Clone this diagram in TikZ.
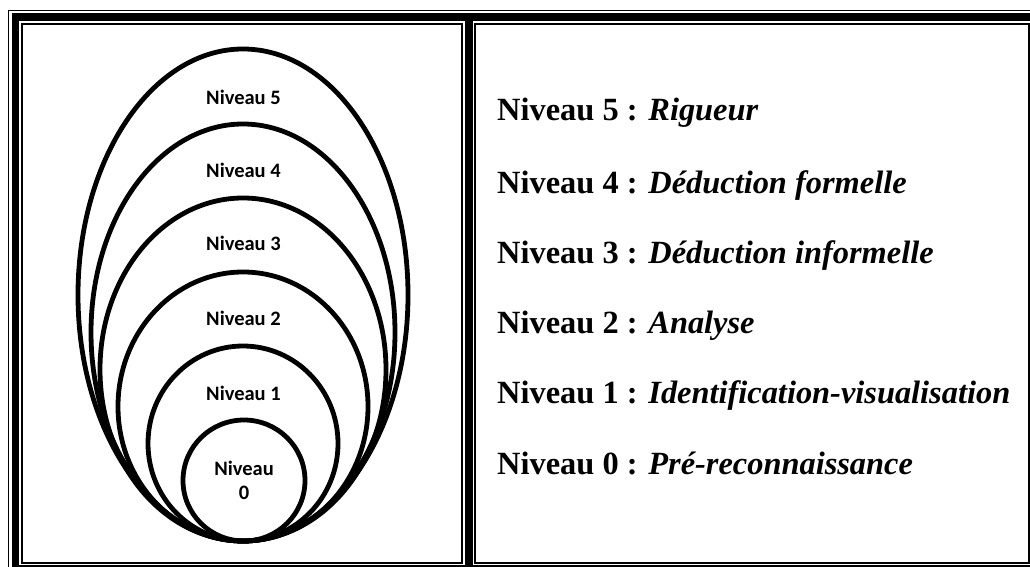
\documentclass[tikz,border=0pt]{standalone}
\usepackage{fontspec}
\setmainfont{Liberation Serif}
\newfontfamily\labelfont{Carlito}
\begin{document}
\begin{tikzpicture}[x=1pt,y=-1pt,
  ring/.style={draw=black,line width=4.8pt},
  ringlabel/.style={font=\labelfont\bfseries\fontsize{20.5}{24}\selectfont,align=center,inner sep=0pt},
  levelname/.style={anchor=base west,inner sep=0pt,font=\bfseries\fontsize{32.4}{38}\selectfont},
  thinrule/.style={line width=1.8pt},
  thickrule/.style={line width=7.5pt}]
\useasboundingbox (0,0) rectangle (1030,567);
% table frame: thin / thick / thin rules
\begin{scope}
  \clip (0,0) rectangle (1030,567);
  \draw[thinrule] (8.5,10.5) rectangle (1050,590);
  \draw[thickrule] (15.5,17) rectangle (1042,569);
  \draw[thickrule] (469,17) -- (469,590);
  \draw[thinrule] (22,24) rectangle (462,563);
  \draw[thinrule] (475,24) rectangle (1028.8,563);
\end{scope}
% nested levels, all tangent at the bottom
\draw[ring] (243,295)   ellipse [x radius=165, y radius=246];
\draw[ring] (243,332.5) ellipse [x radius=152, y radius=208.5];
\draw[ring] (243,369.5) ellipse [x radius=143, y radius=171.5];
\draw[ring] (243,406.5) ellipse [x radius=125, y radius=134.5];
\draw[ring] (243,443.5) ellipse [x radius=95,  y radius=97.5];
\draw[ring] (244,480.5) ellipse [x radius=61,  y radius=60.5];
% labels inside the rings
\node[ringlabel] (l5) at (243.5,97)  {Niveau 5};
\node[ringlabel] (l4) at (243.5,170) {Niveau 4};
\node[ringlabel] (l3) at (243.5,243) {Niveau 3};
\node[ringlabel] (l2) at (243.5,318) {Niveau 2};
\node[ringlabel] (l1) at (243.5,393) {Niveau 1};
\node[ringlabel] (l0) at (244,480)   {Niveau\\0};
% legend
\node[levelname] (n5) at (497,121) {Niveau 5 : \textit{Rigueur}};
\node[levelname] (n4) at (497,193) {Niveau 4 : \textit{Déduction formelle}};
\node[levelname] (n3) at (497,263) {Niveau 3 : \textit{Déduction informelle}};
\node[levelname] (n2) at (497,333) {Niveau 2 : \textit{Analyse}};
\node[levelname] (n1) at (497,403) {Niveau 1 : \textit{Identification-visualisation}};
\node[levelname] (n0) at (497,474) {Niveau 0 : \textit{Pré-reconnaissance}};
\end{tikzpicture}
\end{document}
